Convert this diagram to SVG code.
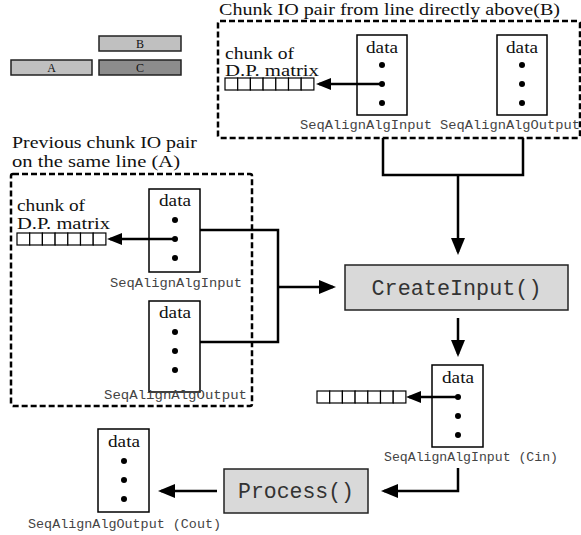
<svg xmlns="http://www.w3.org/2000/svg" width="581" height="535" viewBox="0 0 581 535">
  <defs>
    <style>
      .serif { font-family: "Liberation Serif", "Times New Roman", serif; fill: #111; }
      .mono { font-family: "Liberation Mono", "Courier New", monospace; fill: #333; }
      .small { fill: #444; }
      .dash { fill: none; stroke: #000; stroke-width: 2.5; stroke-dasharray: 6 3; }
      .box { fill: #fff; stroke: #000; stroke-width: 1.5; }
      .func { fill: #d9d9d9; stroke: #222; stroke-width: 1.5; }
      .cell { fill: #fff; stroke: #000; stroke-width: 1.2; }
      .legend { stroke: #222; stroke-width: 1.5; }
      .wire { fill: none; stroke: #000; stroke-width: 2.5; }
      .dot { fill: #000; }
    </style>
    <marker id="arrow" viewBox="0 0 17 14" refX="14" refY="7" markerWidth="17" markerHeight="14" markerUnits="userSpaceOnUse" orient="auto">
      <path d="M0,0 L17,7 L0,14 z" fill="#000"/>
    </marker>
    <marker id="arrowSmall" viewBox="0 0 15 12" refX="12" refY="6" markerWidth="15" markerHeight="12" markerUnits="userSpaceOnUse" orient="auto">
      <path d="M0,0 L15,6 L0,12 z" fill="#000"/>
    </marker>
    <!-- a 7-cell strip of the D.P. matrix -->
    <g id="strip">
      <rect class="cell" x="0" y="0" width="12.7" height="12"/>
      <rect class="cell" x="12.7" y="0" width="12.7" height="12"/>
      <rect class="cell" x="25.4" y="0" width="12.7" height="12"/>
      <rect class="cell" x="38.1" y="0" width="12.7" height="12"/>
      <rect class="cell" x="50.8" y="0" width="12.7" height="12"/>
      <rect class="cell" x="63.5" y="0" width="12.7" height="12"/>
      <rect class="cell" x="76.2" y="0" width="12.7" height="12"/>
    </g>
  </defs>

  <rect width="581" height="535" fill="#fff"/>

  <!-- legend of chunk positions -->
  <g id="legend">
    <rect class="legend" x="99" y="36" width="82" height="15" fill="#c0c0c0"/>
    <rect class="legend" x="11" y="60" width="81" height="15" fill="#c0c0c0"/>
    <rect class="legend" x="99" y="60" width="82" height="15" fill="#8c8c8c"/>
    <text class="serif" x="140" y="48" font-size="12" text-anchor="middle">B</text>
    <text class="serif" x="51.5" y="72" font-size="12" text-anchor="middle">A</text>
    <text class="serif" x="140" y="72" font-size="12" text-anchor="middle">C</text>
  </g>

  <!-- chunk IO pair from the line above (B) -->
  <g id="pairB">
    <text class="serif" x="219" y="15" font-size="17" textLength="341" lengthAdjust="spacingAndGlyphs">Chunk IO pair from line directly above(B)</text>
    <rect class="dash" x="218" y="21" width="362" height="117" rx="2"/>
    <text class="serif" x="225" y="59" font-size="16" textLength="69" lengthAdjust="spacingAndGlyphs">chunk of</text>
    <text class="serif" x="225" y="76" font-size="16" textLength="94" lengthAdjust="spacingAndGlyphs">D.P. matrix</text>
    <use href="#strip" x="225" y="78"/>
    <rect class="box" x="357" y="35" width="50" height="80"/>
    <text class="serif" x="382" y="53" font-size="16" text-anchor="middle" textLength="32" lengthAdjust="spacingAndGlyphs">data</text>
    <circle class="dot" cx="382" cy="65" r="3"/>
    <circle class="dot" cx="382" cy="84" r="3"/>
    <circle class="dot" cx="382" cy="103" r="3"/>
    <text class="mono small" x="300" y="129" font-size="12" textLength="132" lengthAdjust="spacingAndGlyphs">SeqAlignAlgInput</text>
    <rect class="box" x="497" y="35" width="50" height="80"/>
    <text class="serif" x="522" y="53" font-size="16" text-anchor="middle" textLength="32" lengthAdjust="spacingAndGlyphs">data</text>
    <circle class="dot" cx="522" cy="65" r="3"/>
    <circle class="dot" cx="522" cy="84" r="3"/>
    <circle class="dot" cx="522" cy="103" r="3"/>
    <text class="mono small" x="440" y="129" font-size="12" textLength="140" lengthAdjust="spacingAndGlyphs">SeqAlignAlgOutput</text>
  </g>

  <!-- previous chunk IO pair on the same line (A) -->
  <g id="pairA">
    <text class="serif" x="12" y="148" font-size="17" textLength="185" lengthAdjust="spacingAndGlyphs">Previous chunk IO pair</text>
    <text class="serif" x="12" y="167" font-size="17" textLength="168" lengthAdjust="spacingAndGlyphs">on the same line (A)</text>
    <rect class="dash" x="11" y="174" width="241" height="232" rx="2"/>
    <text class="serif" x="17" y="211" font-size="16" textLength="68" lengthAdjust="spacingAndGlyphs">chunk of</text>
    <text class="serif" x="17" y="229" font-size="16" textLength="93" lengthAdjust="spacingAndGlyphs">D.P. matrix</text>
    <use href="#strip" x="17" y="233"/>
    <rect class="box" x="149" y="189" width="51" height="83"/>
    <text class="serif" x="175" y="206" font-size="16" text-anchor="middle" textLength="32" lengthAdjust="spacingAndGlyphs">data</text>
    <circle class="dot" cx="175" cy="220" r="3"/>
    <circle class="dot" cx="175" cy="239" r="3"/>
    <circle class="dot" cx="175" cy="258" r="3"/>
    <text class="mono small" x="110" y="287" font-size="12" textLength="132" lengthAdjust="spacingAndGlyphs">SeqAlignAlgInput</text>
    <rect class="box" x="149" y="301" width="51" height="91"/>
    <text class="serif" x="175" y="318" font-size="16" text-anchor="middle" textLength="32" lengthAdjust="spacingAndGlyphs">data</text>
    <circle class="dot" cx="175" cy="332" r="3"/>
    <circle class="dot" cx="175" cy="351" r="3"/>
    <circle class="dot" cx="175" cy="370" r="3"/>
    <text class="mono small" x="104" y="399" font-size="12" textLength="143" lengthAdjust="spacingAndGlyphs">SeqAlignAlgOutput</text>
  </g>

  <!-- CreateInput() -->
  <g id="createInput">
    <rect class="func" x="345" y="265" width="223" height="45"/>
    <text class="mono" x="456.5" y="295" font-size="22" text-anchor="middle" textLength="170" lengthAdjust="spacingAndGlyphs">CreateInput()</text>
  </g>

  <!-- input of the current chunk (Cin) -->
  <g id="cin">
    <use href="#strip" x="317" y="391"/>
    <rect class="box" x="432" y="365" width="51" height="82"/>
    <text class="serif" x="458" y="383" font-size="16" text-anchor="middle" textLength="32" lengthAdjust="spacingAndGlyphs">data</text>
    <circle class="dot" cx="458" cy="397" r="3"/>
    <circle class="dot" cx="458" cy="416" r="3"/>
    <circle class="dot" cx="458" cy="435" r="3"/>
    <text class="mono small" x="384" y="461" font-size="12" textLength="174" lengthAdjust="spacingAndGlyphs">SeqAlignAlgInput (Cin)</text>
  </g>

  <!-- Process() -->
  <g id="process">
    <rect class="func" x="224" y="469" width="144" height="44"/>
    <text class="mono" x="296" y="498" font-size="22" text-anchor="middle" textLength="116" lengthAdjust="spacingAndGlyphs">Process()</text>
  </g>

  <!-- output of the current chunk (Cout) -->
  <g id="cout">
    <rect class="box" x="98" y="429" width="51" height="83"/>
    <text class="serif" x="124" y="447" font-size="16" text-anchor="middle" textLength="32" lengthAdjust="spacingAndGlyphs">data</text>
    <circle class="dot" cx="124" cy="461" r="3"/>
    <circle class="dot" cx="124" cy="480" r="3"/>
    <circle class="dot" cx="124" cy="499" r="3"/>
    <text class="mono small" x="28" y="528" font-size="12" textLength="193" lengthAdjust="spacingAndGlyphs">SeqAlignAlgOutput (Cout)</text>
  </g>

  <!-- data flow -->
  <g id="connectors">
    <path class="wire" d="M382,84 H319" marker-end="url(#arrowSmall)"/>
    <path class="wire" d="M175,239 H110" marker-end="url(#arrowSmall)"/>
    <path class="wire" d="M458,397 H409" marker-end="url(#arrowSmall)"/>
    <path class="wire" d="M383,138 V175 H523 V138"/>
    <path class="wire" d="M458,175 V252" marker-end="url(#arrow)"/>
    <path class="wire" d="M200,230 H278 V342 H200"/>
    <path class="wire" d="M278,287 H333" marker-end="url(#arrow)"/>
    <path class="wire" d="M458,318 V354" marker-end="url(#arrow)"/>
    <path class="wire" d="M458,468 V491 H384" marker-end="url(#arrow)"/>
    <path class="wire" d="M217,491 H161" marker-end="url(#arrow)"/>
  </g>
</svg>
